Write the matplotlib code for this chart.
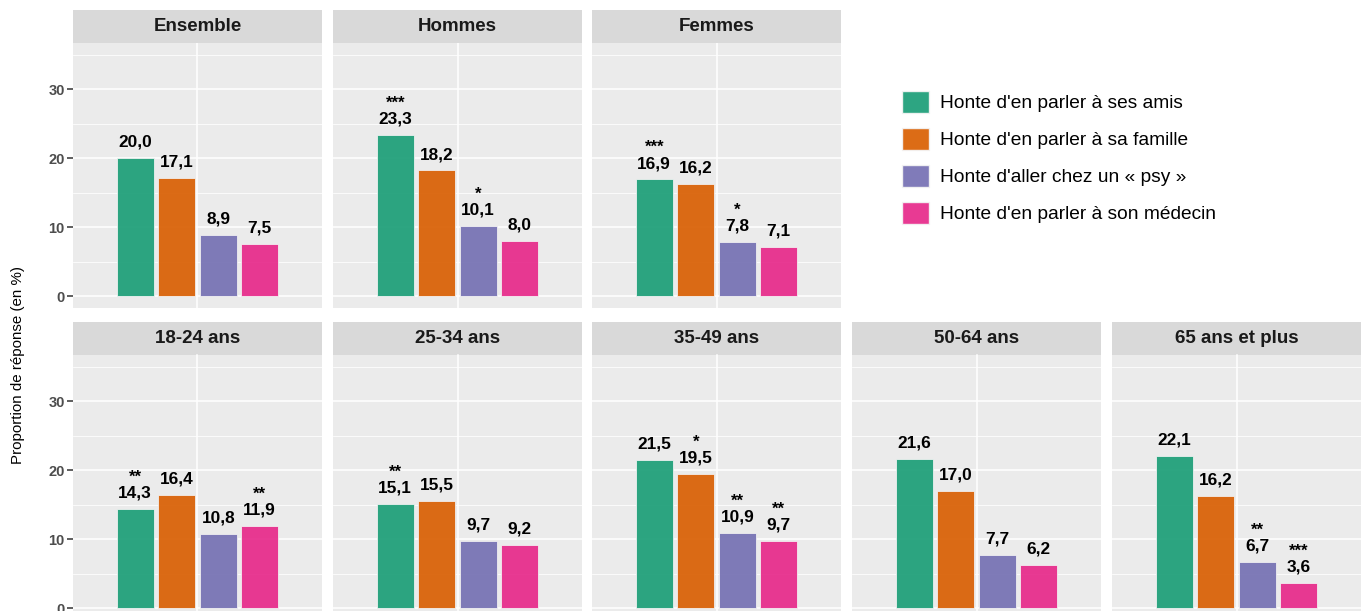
import numpy as np
import matplotlib.pyplot as plt
from matplotlib.patches import Patch

plt.rcParams['font.family'] = ['Liberation Sans', 'DejaVu Sans']

# data
panels = ['Ensemble', 'Hommes', 'Femmes',
          '18-24 ans', '25-34 ans', '35-49 ans', '50-64 ans', '65 ans et plus']
series = ["Honte d'en parler à ses amis", "Honte d'en parler à sa famille",
          "Honte d'aller chez un « psy »", "Honte d'en parler à son médecin"]
amis = [20.0, 23.3, 16.9, 14.3, 15.1, 21.5, 21.6, 22.1]
famille = [17.1, 18.2, 16.2, 16.4, 15.5, 19.5, 17.0, 16.2]
psy = [8.9, 10.1, 7.8, 10.8, 9.7, 10.9, 7.7, 6.7]
medecin = [7.5, 8.0, 7.1, 11.9, 9.2, 9.7, 6.2, 3.6]
amis_sig = ['', '***', '***', '**', '**', '', '', '']
famille_sig = ['', '', '', '', '', '*', '', '']
psy_sig = ['', '*', '*', '', '', '**', '', '**']
medecin_sig = ['', '', '', '**', '', '**', '', '***']

values = [amis, famille, psy, medecin]
sigs = [amis_sig, famille_sig, psy_sig, medecin_sig]
colors = ['#1B9E77', '#D95F02', '#7570B3', '#E7298A']

W, H = 1365, 611
fig = plt.figure(figsize=(W / 100, H / 100), dpi=100)

def add_ax(x, y, w, h):
    return fig.add_axes([x / W, 1 - (y + h) / H, w / W, h / H])

lefts = [73, 333, 592, 852, 1112]
pw = 249
ph = 265.6
offsets = np.array([-0.3, -0.1, 0.1, 0.3])

for i, name in enumerate(panels):
    if i < 3:
        col, strip_y = i, 10
    else:
        col, strip_y = i - 3, 322
    x0 = lefts[col]
    # strip
    sax = add_ax(x0, strip_y, pw, 32.5)
    sax.set_facecolor('#D9D9D9')
    sax.set_xticks([]); sax.set_yticks([])
    for s in sax.spines.values():
        s.set_visible(False)
    sax.text(0.5, 0.5, name, ha='center', va='center', fontsize=13.5,
             fontweight='bold', color='#1A1A1A', transform=sax.transAxes)
    # panel
    ax = add_ax(x0, strip_y + 32.5, pw, ph)
    ax.set_facecolor('#EBEBEB')
    ax.set_xlim(0.4, 1.6)
    ax.set_ylim(-1.75, 36.75)
    ax.set_yticks([0, 10, 20, 30])
    ax.set_yticks([5, 15, 25, 35], minor=True)
    ax.grid(which='major', color='white', linewidth=1.1)
    ax.grid(which='minor', axis='y', color='white', linewidth=0.55)
    ax.set_xticks([1])
    ax.set_axisbelow(True)
    ax.tick_params(axis='x', length=0, labelbottom=False)
    ax.tick_params(axis='y', which='minor', length=0)
    for s in ax.spines.values():
        s.set_visible(False)
    if col == 0:
        ax.tick_params(axis='y', length=4, width=1.1, color='#333333',
                       labelsize=10.5, labelcolor='#4D4D4D', pad=2)
        for lab in ax.get_yticklabels():
            lab.set_fontweight('bold')
    else:
        ax.tick_params(axis='y', length=0, labelleft=False)

    for k in range(4):
        v = values[k][i]
        xpos = 1 + offsets[k]
        ax.bar(xpos, v, width=0.176, color=colors[k], alpha=0.92,
               edgecolor='#F4F4F4', linewidth=0.6)
        ax.annotate(f"{v:.1f}".replace('.', ','), xy=(xpos, v), xytext=(0, 8.2),
                    textcoords='offset points', ha='center', va='baseline',
                    fontsize=12.4, fontweight='bold', color='black')
        if sigs[k][i]:
            ax.annotate(sigs[k][i], xy=(xpos, v), xytext=(0, 19.6),
                        textcoords='offset points', ha='center', va='baseline',
                        fontsize=12, fontweight='bold', color='black')

fig.text(18 / W, 1 - 365 / H, 'Proportion de réponse (en %)', rotation=90,
         ha='center', va='center', fontsize=10.9, color='black')

handles = [Patch(facecolor=c, edgecolor='#F4F4F4', alpha=0.92) for c in colors]
fig.legend(handles, series, loc='upper left',
           bbox_to_anchor=(902 / W, 1 - 91 / H), frameon=False,
           fontsize=13.8, handlelength=1.4, handleheight=1.4,
           handletextpad=0.6, labelspacing=0.77, borderpad=0, borderaxespad=0)

fig.savefig('out.png', dpi=100)
